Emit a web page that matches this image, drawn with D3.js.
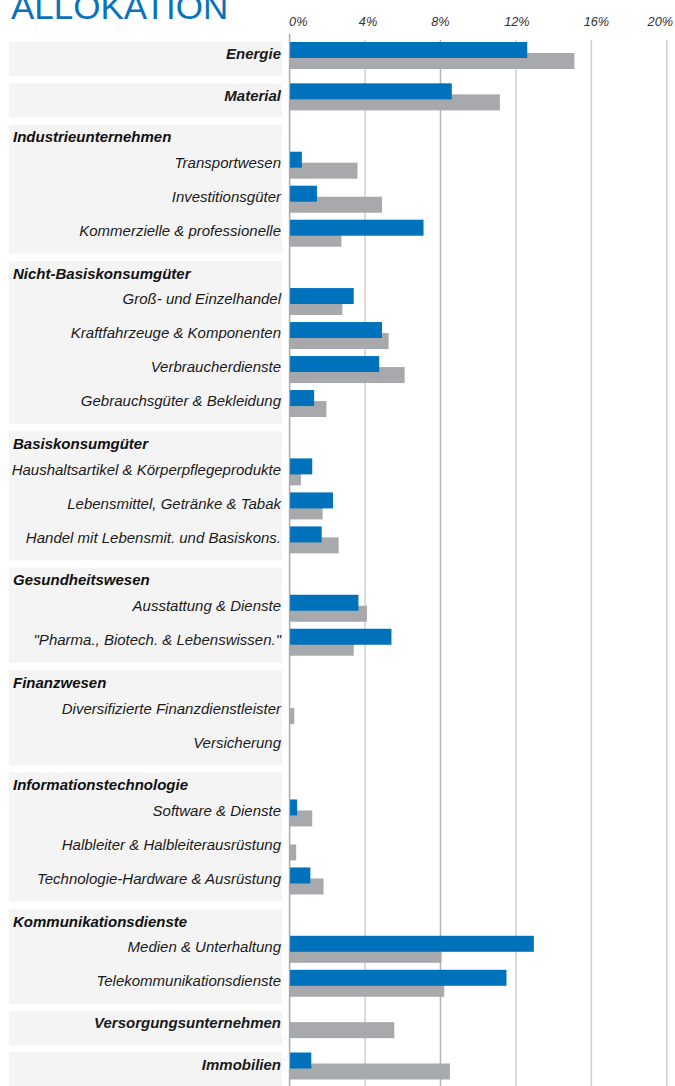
<!DOCTYPE html>
<html>
<head>
<meta charset="utf-8">
<script src="https://cdn.jsdelivr.net/npm/d3@7"></script>
<style>
  html, body { margin: 0; padding: 0; background: #fff; }
  svg { display: block; }
</style>
</head>
<body>
<svg id="chart" width="675" height="1086"></svg>
<script>
// ---- data ----
const title = "ALLOKATION";
const groupNames = ["Energie", "Material", "Industrieunternehmen", "Nicht-Basiskonsumgüter",
  "Basiskonsumgüter", "Gesundheitswesen", "Finanzwesen", "Informationstechnologie",
  "Kommunikationsdienste", "Versorgungsunternehmen", "Immobilien"];
const groupHasHeader = [false, false, true, true, true, true, true, true, true, false, false];
const categories = ["Energie", "Material",
  "Transportwesen", "Investitionsgüter", "Kommerzielle & professionelle",
  "Groß- und Einzelhandel", "Kraftfahrzeuge & Komponenten", "Verbraucherdienste", "Gebrauchsgüter & Bekleidung",
  "Haushaltsartikel & Körperpflegeprodukte", "Lebensmittel, Getränke & Tabak", "Handel mit Lebensmit. und Basiskons.",
  "Ausstattung & Dienste", "\"Pharma., Biotech. & Lebenswissen.\"",
  "Diversifizierte Finanzdienstleister", "Versicherung",
  "Software & Dienste", "Halbleiter & Halbleiterausrüstung", "Technologie-Hardware & Ausrüstung",
  "Medien & Unterhaltung", "Telekommunikationsdienste",
  "Versorgungsunternehmen", "Immobilien"];
const categoryGroup = [0, 1, 2, 2, 2, 3, 3, 3, 3, 4, 4, 4, 5, 5, 6, 6, 7, 7, 7, 8, 8, 9, 10];
const portfolio = [12.6, 8.6, 0.65, 1.45, 7.1, 3.4, 4.9, 4.75, 1.3, 1.2, 2.3, 1.7, 3.65, 5.4,
  0, 0, 0.4, 0, 1.1, 12.95, 11.5, 0, 1.15];
const benchmark = [15.1, 11.15, 3.6, 4.9, 2.75, 2.8, 5.25, 6.1, 1.95, 0.6, 1.75, 2.6, 4.1, 3.4,
  0.25, 0, 1.2, 0.35, 1.8, 8.05, 8.2, 5.55, 8.5];
const tickValues = [0, 4, 8, 12, 16, 20];

// ---- layout ----
const ROW = 34, HEADER = 27, GAP = 7.35, TOP = 42;
const svg = d3.select("#chart");
const W = 675, H = 1086;
const FONT = "Liberation Sans, Arial, sans-serif";

const panels = [];
const rowTop = new Array(categories.length);
let cursor = 0;
groupNames.forEach((g, gi) => {
  const start = cursor;
  if (groupHasHeader[gi]) cursor += HEADER;
  categories.forEach((c, ci) => {
    if (categoryGroup[ci] === gi) { rowTop[ci] = cursor; cursor += ROW; }
  });
  panels.push({ name: g, header: groupHasHeader[gi], top: start, bottom: cursor });
  cursor += GAP;
});

const y = d3.scaleLinear().domain([0, 1]).range([TOP, TOP + 1]);
const x = d3.scaleLinear().domain([0, 20]).range([289.6, 666.8]);

// title
svg.append("text")
  .attr("x", 11).attr("y", 19)
  .attr("font-family", FONT)
  .attr("font-size", 35)
  .attr("fill", "#0a72bd")
  .text(title);

// panels
svg.append("g").selectAll("rect").data(panels).join("rect")
  .attr("x", 9).attr("width", 273)
  .attr("y", d => y(d.top)).attr("height", d => y(d.bottom) - y(d.top))
  .attr("fill", "#f4f4f4");

// group header labels
svg.append("g").selectAll("text").data(panels.filter(p => p.header)).join("text")
  .attr("x", 13).attr("y", d => y(d.top) + 17.7)
  .attr("font-family", FONT)
  .attr("font-size", 15).attr("font-weight", "bold").attr("font-style", "italic")
  .attr("fill", "#111")
  .text(d => d.name);

// category labels
svg.append("g").selectAll("text").data(categories).join("text")
  .attr("x", 281)
  .attr("y", (d, i) => y(rowTop[i]) + (groupHasHeader[categoryGroup[i]] ? 16.4 : 17.2))
  .attr("text-anchor", "end")
  .attr("font-family", FONT)
  .attr("font-size", 15).attr("font-style", "italic")
  .attr("font-weight", (d, i) => groupHasHeader[categoryGroup[i]] ? "normal" : "bold")
  .attr("fill", "#1a1a1a")
  .text(d => d);

// gridlines
svg.append("g").selectAll("line").data(tickValues).join("line")
  .attr("x1", d => x(d)).attr("x2", d => x(d))
  .attr("y1", d => d === 0 ? 34 : 40).attr("y2", H)
  .attr("stroke", d => d === 0 ? "#a9a9a9" : (d === 8 ? "#b3b3b3" : "#cfcfcf"))
  .attr("stroke-width", 1.5);

// tick labels
const tickNudge = [0, 3, 0, 1, 5, 0];
svg.append("g").selectAll("text").data(tickValues).join("text")
  .attr("x", (d, i) => i === 0 ? x(d) - 0.5 : (i === tickValues.length - 1 ? 673 : x(d) + tickNudge[i]))
  .attr("y", 26)
  .attr("text-anchor", (d, i) => i === 0 ? "start" : (i === tickValues.length - 1 ? "end" : "middle"))
  .attr("font-family", FONT)
  .attr("font-size", 12.7).attr("font-style", "italic")
  .attr("fill", "#333")
  .text(d => d + "%");

// bars: benchmark (gray) below, portfolio (blue) on top
svg.append("g").selectAll("rect").data(benchmark).join("rect")
  .attr("x", x(0)).attr("width", d => Math.max(0, x(d) - x(0)))
  .attr("y", (d, i) => y(rowTop[i]) + 11).attr("height", 16)
  .attr("fill", "#a8a9ad");

svg.append("g").selectAll("rect").data(portfolio).join("rect")
  .attr("x", x(0) + 0.5).attr("width", d => Math.max(0, x(d) - x(0) - 0.5))
  .attr("y", (d, i) => y(rowTop[i])).attr("height", 16)
  .attr("fill", "#0071bb");
</script>
</body>
</html>
